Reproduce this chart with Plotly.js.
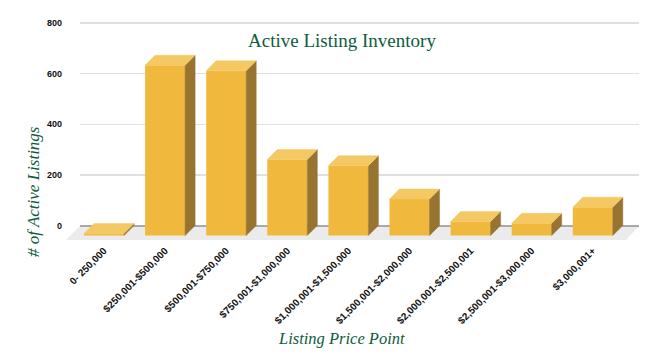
<!DOCTYPE html>
<html>
<head>
<meta charset="utf-8">
<script src="https://cdn.plot.ly/plotly-3.0.1.min.js"></script>
<style>html,body{margin:0;padding:0;background:#fff;}#chart{width:664px;height:356px;}</style>
</head>
<body>
<div id="chart"></div>
<script>
// ---- data ----
var categories = ["0- 250,000", "$250,001-$500,000", "$500,001-$750,000", "$750,001-$1,000,000",
  "$1,000,001-$1,500,000", "$1,500,001-$2,000,000", "$2,000,001-$2,500,001", "$2,500,001-$3,000,000", "$3,000,001+"];
var listings = [8, 673, 651, 300, 276, 144, 55, 48, 112];
var yTicks = [0, 200, 400, 600, 800];
var chartTitle = 'Active Listing Inventory';
var xTitle = 'Listing Price Point';
var yTitle = '# of Active Listings';

// ---- geometry (pseudo 3D) ----
var L = 80, R = 639, T = 15, B = 242;          // plot area in px
var pxPerCat = 61.1, firstCenter = 104;        // front face centres
var pxPerUnit = 0.253, zeroPx = 225.5;
var xr = [-(firstCenter - L) / pxPerCat, (R - firstCenter) / pxPerCat];
var yr = [(zeroPx - B) / pxPerUnit, (zeroPx - T) / pxPerUnit];
var depthPx = 10;
var D = depthPx / pxPerUnit;                   // depth in value units
var dx = depthPx / pxPerCat;                   // depth in category units
var w = 40 / pxPerCat;                         // bar width

var xs = categories.map(function (c, i) { return i; });

var topX = [], topY = [], sideX = [], sideY = [];
xs.forEach(function (x, i) {
  var v = listings[i];
  var l = x - w / 2, r = x + w / 2;
  topX.push(l, r, r + dx, l + dx, l, null);
  topY.push(v - D, v - D, v, v, v - D, null);
  sideX.push(r, r, r + dx, r + dx, r, null);
  sideY.push(-D, v - D, v, 0, -D, null);
});

var front = {
  type: 'bar', x: xs, y: listings, base: listings.map(function () { return -D; }),
  width: w, marker: { color: '#F0B93E', line: { width: 0 } }, hoverinfo: 'skip', showlegend: false
};
var tops = {
  type: 'scatter', mode: 'lines', x: topX, y: topY, fill: 'toself', fillcolor: '#F4C862',
  line: { color: '#F4C862', width: 0.5 }, hoverinfo: 'skip', showlegend: false
};
var sides = {
  type: 'scatter', mode: 'lines', x: sideX, y: sideY, fill: 'toself', fillcolor: '#987431',
  line: { color: '#987431', width: 0.5 }, hoverinfo: 'skip', showlegend: false
};

function px2paperX(p) { return (p - L) / (R - L); }
function px2paperY(p) { return (B - p) / (B - T); }
var floorPts = [[80, 226], [639, 226], [626, 240], [66, 240]];
var floorPath = floorPts.map(function (pt, i) {
  return (i === 0 ? 'M' : 'L') + px2paperX(pt[0]).toFixed(4) + ',' + px2paperY(pt[1]).toFixed(4);
}).join(' ') + ' Z';

var green = '#0e5c3d';
var serif = 'Liberation Serif, Times New Roman, serif';
var layout = {
  width: 664, height: 356,
  margin: { l: L, r: 664 - R, t: T, b: 356 - B, pad: 0 },
  paper_bgcolor: '#ffffff', plot_bgcolor: 'rgba(0,0,0,0)',
  showlegend: false,
  title: {
    text: chartTitle,
    font: { family: serif, size: 19, color: green },
    x: 342 / 664, xref: 'container', xanchor: 'center',
    y: 1 - 40 / 356, yref: 'container', yanchor: 'middle'
  },
  xaxis: {
    type: 'linear', range: xr, tickvals: xs, ticktext: categories, tickangle: -45,
    showgrid: false, zeroline: false, showline: false, ticks: '',
    tickfont: { family: 'Liberation Sans, Arial, sans-serif', size: 10, color: '#111', weight: 700 },
    automargin: false, fixedrange: true
  },
  yaxis: {
    range: yr, tickvals: yTicks, ticktext: yTicks.map(String),
    showgrid: true, gridcolor: '#e0e0e0', gridwidth: 1.5,
    zeroline: true, zerolinecolor: '#a9a9a9', zerolinewidth: 2,
    showline: false, ticks: '', ticklabelstandoff: 17,
    tickfont: { family: 'Liberation Sans, Arial, sans-serif', size: 9, color: '#111', weight: 700 },
    automargin: false, fixedrange: true
  },
  annotations: [
    {
      text: xTitle, xref: 'paper', yref: 'paper', showarrow: false,
      x: px2paperX(341), y: px2paperY(338), xanchor: 'center', yanchor: 'middle',
      font: { family: serif, size: 16.5, color: green, style: 'italic' }
    },
    {
      text: yTitle, xref: 'paper', yref: 'paper', showarrow: false, textangle: -90,
      x: px2paperX(33), y: px2paperY(192), xanchor: 'center', yanchor: 'middle',
      font: { family: serif, size: 17, color: green, style: 'italic' }
    }
  ],
  shapes: [{
    type: 'path', xref: 'paper', yref: 'paper', path: floorPath,
    fillcolor: '#ebebeb', line: { width: 0 }, layer: 'below'
  }]
};

Plotly.newPlot('chart', [front, sides, tops], layout, { staticPlot: true, displayModeBar: false });
</script>
</body>
</html>
